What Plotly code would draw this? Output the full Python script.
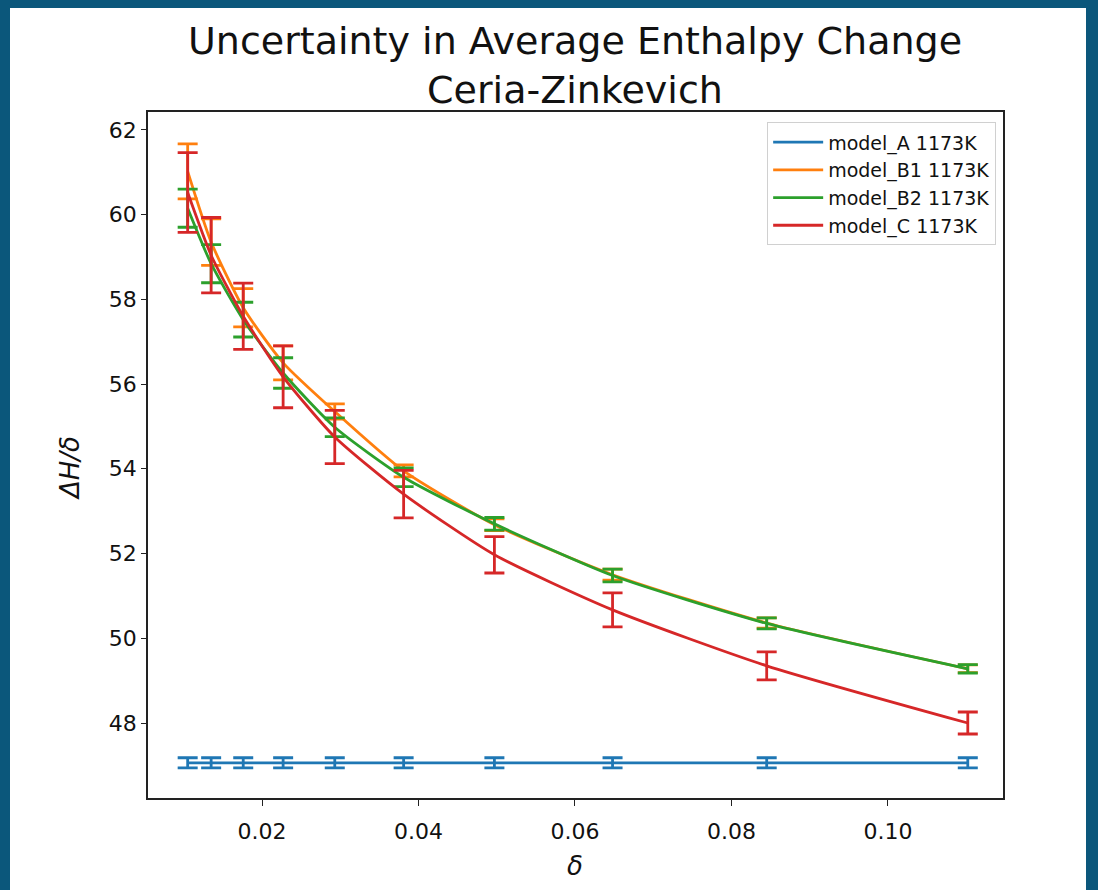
import plotly.graph_objects as go

# ---- data ----
delta = [0.0105, 0.0135, 0.0176, 0.0227, 0.0293, 0.0381, 0.0497, 0.0648, 0.0845, 0.1102]

model_a = [47.06, 47.06, 47.06, 47.06, 47.06, 47.06, 47.06, 47.06, 47.06, 47.06]
model_a_err = [0.12, 0.12, 0.12, 0.12, 0.12, 0.12, 0.12, 0.12, 0.12, 0.12]

model_b1 = [61.02, 59.35, 57.8, 56.5, 55.35, 53.95, 52.68, 51.5, 50.36, 49.28]
model_b1_err = [0.65, 0.55, 0.45, 0.4, 0.18, 0.14, 0.14, 0.13, 0.12, 0.09]

model_b2 = [60.15, 58.84, 57.52, 56.26, 54.98, 53.8, 52.7, 51.48, 50.35, 49.28]
model_b2_err = [0.45, 0.45, 0.41, 0.36, 0.22, 0.22, 0.15, 0.15, 0.13, 0.1]

model_c = [60.52, 59.04, 57.6, 56.17, 54.75, 53.4, 51.97, 50.67, 49.35, 48.0]
model_c_err = [0.94, 0.89, 0.78, 0.73, 0.63, 0.56, 0.43, 0.4, 0.33, 0.26]

series_names = ["model_A 1173K", "model_B1 1173K", "model_B2 1173K", "model_C 1173K"]
series_vals = [model_a, model_b1, model_b2, model_c]
series_errs = [model_a_err, model_b1_err, model_b2_err, model_c_err]
colors = ["#1f77b4", "#ff7f0e", "#2ca02c", "#d62728"]

x_ticks = [0.02, 0.04, 0.06, 0.08, 0.10]
x_tick_text = ["0.02", "0.04", "0.06", "0.08", "0.10"]
y_ticks = [48, 50, 52, 54, 56, 58, 60, 62]

FONT = "DejaVu Sans"
W, H = 1098, 890
L, R, T, B = 148, 1098 - 1003, 112, 890 - 798
PW, PH = W - L - R, H - T - B

fig = go.Figure()
for name, vals, errs, col in zip(series_names, series_vals, series_errs, colors):
    fig.add_trace(go.Scatter(
        x=delta, y=vals, name=name, mode="lines",
        line=dict(color=col, width=2.8, shape="spline", smoothing=0.6),
        error_y=dict(type="data", array=errs, visible=True, color=col,
                     thickness=2.8, width=10),
    ))

def px_x(p):
    return (p - L) / PW

def px_y(p):
    return (H - B - p) / PH

border = "#0b577b"
shapes = [
    dict(type="rect", xref="paper", yref="paper", x0=px_x(-10), x1=px_x(10),
         y0=px_y(H + 10), y1=px_y(-10), fillcolor=border, line=dict(width=0), layer="above"),
    dict(type="rect", xref="paper", yref="paper", x0=px_x(-10), x1=px_x(W + 10),
         y0=px_y(8), y1=px_y(-10), fillcolor=border, line=dict(width=0), layer="above"),
    dict(type="rect", xref="paper", yref="paper", x0=px_x(1086), x1=px_x(W + 10),
         y0=px_y(H + 10), y1=px_y(-10), fillcolor=border, line=dict(width=0), layer="above"),
]

annotations = [
    dict(text="<i>ΔH/δ</i>", xref="paper", yref="paper", x=px_x(70), y=px_y(468),
         showarrow=False, textangle=-90, font=dict(family=FONT, size=26, color="#111"),
         xanchor="center", yanchor="middle"),
    dict(text="<i>δ</i>", xref="paper", yref="paper", x=px_x(575), y=px_y(866),
         showarrow=False, font=dict(family=FONT, size=26, color="#111"),
         xanchor="center", yanchor="middle"),
]

fig.update_layout(
    width=W, height=H,
    margin=dict(l=L, r=R, t=T, b=B, autoexpand=False),
    paper_bgcolor="white", plot_bgcolor="white",
    title=dict(text="Uncertainty in Average Enthalpy Change<br>Ceria-Zinkevich",
               x=px_x(575), xref="paper", xanchor="center",
               y=1 - 54 / H, yref="container", yanchor="top",
               font=dict(family=FONT, size=38, color="#111")),
    font=dict(family=FONT, color="#111"),
    showlegend=True,
    legend=dict(x=0.992, y=0.985, xanchor="right", yanchor="top",
                bgcolor="rgba(255,255,255,0.9)", bordercolor="#d0d0d0", borderwidth=1,
                font=dict(family=FONT, size=19, color="#111"),
                itemwidth=50, tracegroupgap=0),
    xaxis=dict(range=[0.00543, 0.1147], tickvals=x_ticks, ticktext=x_tick_text,
               showgrid=False, zeroline=False, showline=True, linecolor="#222",
               linewidth=1.6, mirror=True, ticks="outside", ticklen=6, tickwidth=1.3,
               tickcolor="#222", ticklabelstandoff=7,
               tickfont=dict(family=FONT, size=22, color="#111")),
    yaxis=dict(range=[46.23, 62.42], tickvals=y_ticks,
               showgrid=False, zeroline=False, showline=True, linecolor="#222",
               linewidth=1.6, mirror=True, ticks="outside", ticklen=5, tickwidth=1.3,
               tickcolor="#222", tickfont=dict(family=FONT, size=22, color="#111")),
    shapes=shapes,
    annotations=annotations,
)

fig.write_html("out.html", config={"displayModeBar": False},
               post_script="document.body.style.margin='0';document.body.style.overflow='hidden';")
